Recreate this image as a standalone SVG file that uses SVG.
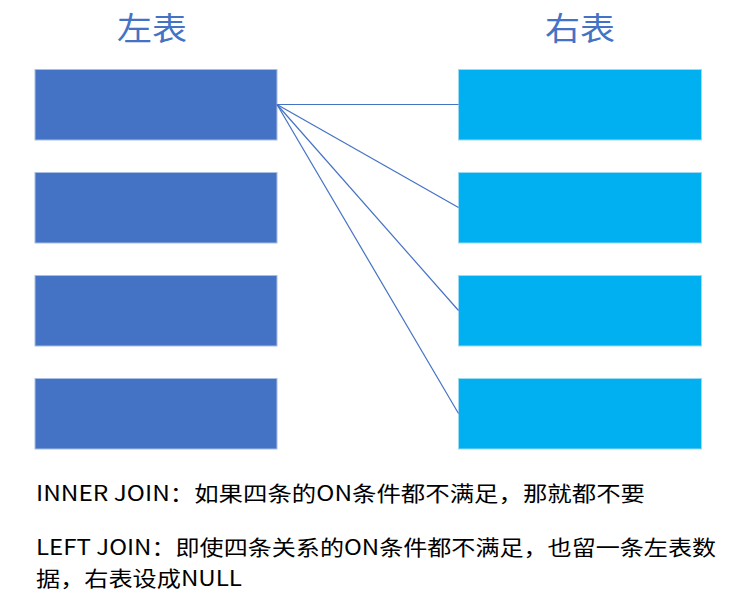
<svg xmlns="http://www.w3.org/2000/svg" width="732" height="610" viewBox="0 0 732 610">
<style>
.l{fill:#4472C4;stroke:#A9BEE3;stroke-width:1}
.r{fill:#00B0F0;stroke:#9DD9F3;stroke-width:1}
.t{font-family:"Noto Sans CJK SC","Microsoft YaHei",sans-serif;fill:#4472C4;font-size:32px}
.b{font-family:"Noto Sans CJK SC","Microsoft YaHei",sans-serif;fill:#000;font-size:21px}
.c{stroke:#4472C4;stroke-width:1.2;fill:none}
</style>
<rect width="732" height="610" fill="#fff"/>
<text class="t" x="152" y="40" text-anchor="middle" textLength="70" lengthAdjust="spacingAndGlyphs">左表</text>
<text class="t" x="580" y="40" text-anchor="middle" textLength="70" lengthAdjust="spacingAndGlyphs">右表</text>
<g id="L1"><rect class="l" x="35" y="69.5" width="242" height="70.5"/></g>
<g id="L2"><rect class="l" x="35" y="172.5" width="242" height="70.5"/></g>
<g id="L3"><rect class="l" x="35" y="275.5" width="242" height="70.5"/></g>
<g id="L4"><rect class="l" x="35" y="378.5" width="242" height="70.5"/></g>
<g id="R1"><rect class="r" x="458.5" y="69.5" width="243" height="70.5"/></g>
<g id="R2"><rect class="r" x="458.5" y="172.5" width="243" height="70.5"/></g>
<g id="R3"><rect class="r" x="458.5" y="275.5" width="243" height="70.5"/></g>
<g id="R4"><rect class="r" x="458.5" y="378.5" width="243" height="70.5"/></g>
<g id="connectors">
<line class="c" x1="277" y1="104.5" x2="458.5" y2="104.5"/>
<line class="c" x1="277" y1="104.5" x2="458.5" y2="207.5"/>
<line class="c" x1="277" y1="104.5" x2="458.5" y2="310.5"/>
<line class="c" x1="277" y1="104.5" x2="458.5" y2="413.5"/>
</g>
<text class="b" x="36" y="501" textLength="609" lengthAdjust="spacingAndGlyphs">INNER JOIN：如果四条的ON条件都不满足，那就都不要</text>
<text class="b" x="36" y="555" textLength="680" lengthAdjust="spacingAndGlyphs">LEFT JOIN：即使四条关系的ON条件都不满足，也留一条左表数</text>
<text class="b" x="36" y="586" textLength="206" lengthAdjust="spacingAndGlyphs">据，右表设成NULL</text>
</svg>
